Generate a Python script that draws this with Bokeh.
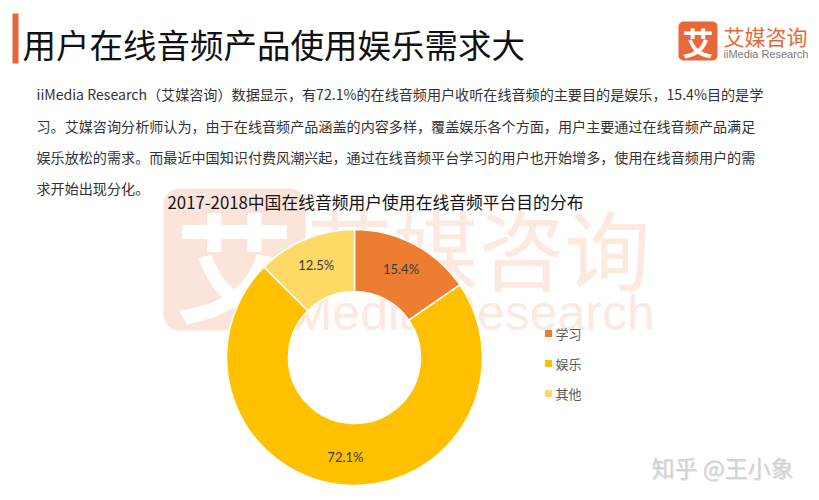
import numpy as np
from bokeh.plotting import figure
from bokeh.models import Range1d, ColumnDataSource
from bokeh.core.properties import value
from bokeh.embed import file_html
from bokeh.resources import INLINE

# ---------------- data ----------------
title = "用户在线音频产品使用娱乐需求大"
paragraph = [
    "iiMedia Research（艾媒咨询）数据显示，有72.1%的在线音频用户收听在线音频的主要目的是娱乐，15.4%目的是学",
    "习。艾媒咨询分析师认为，由于在线音频产品涵盖的内容多样，覆盖娱乐各个方面，用户主要通过在线音频产品满足",
    "娱乐放松的需求。而最近中国知识付费风潮兴起，通过在线音频平台学习的用户也开始增多，使用在线音频用户的需",
    "求开始出现分化。",
]
chart_title = "2017-2018中国在线音频用户使用在线音频平台目的分布"
categories = ["学习", "娱乐", "其他"]
shares = [15.4, 72.1, 12.5]
colors = ["#ED7D31", "#FFC000", "#FFD966"]
logo_mark = "艾"
logo_cn = "艾媒咨询"
logo_en = "iiMedia Research"
credit = "知乎 @王小象"

# ---------------- layout ----------------
W, H = 819, 500
CJK = value("Noto Sans CJK SC")
LAT = value("Liberation Sans")


def Y(px):
    return H - np.asarray(px, dtype=float)


def rounded(x0, y0, x1, y1, r, n=10):
    xs, ys = [], []
    corners = [(x1 - r, y0 + r, -90, 0), (x1 - r, y1 - r, 0, 90),
               (x0 + r, y1 - r, 90, 180), (x0 + r, y0 + r, 180, 270)]
    for cx, cy, a0, a1 in corners:
        t = np.radians(np.linspace(a0, a1, n))
        xs += list(cx + r * np.cos(t))
        ys += list(Y(cy + r * np.sin(t)))
    return xs, ys


p = figure(width=W, height=H, x_range=Range1d(0, W), y_range=Range1d(0, H),
           output_backend="svg", toolbar_location=None, min_border=0,
           x_axis_location=None, y_axis_location=None)
p.grid.visible = False
p.outline_line_color = None
p.background_fill_color = "white"
p.border_fill_color = "white"

# ---- background watermark ----
wm = "#FCE9E0"
xs, ys = rounded(163, 188, 305, 330, 16)
p.patch(xs, ys, fill_color="#FBE5DA", line_color=None)
p.text(x=[234], y=Y([262]), text=[logo_mark], text_font=CJK, text_font_size=value("118px"),
       text_color="white", text_align="center", text_baseline="middle", text_font_style="bold")
p.text(x=[306], y=Y([246]), text=[logo_cn], text_font=CJK, text_font_size=value("86px"),
       text_color=wm, text_align="left", text_baseline="middle")
p.text(x=[268], y=Y([312]), text=[logo_en], text_font=LAT, text_font_size=value("50px"),
       text_color=wm, text_align="left", text_baseline="middle")

# ---- header ----
p.quad(left=[12], right=[18], top=Y([13]), bottom=Y([63]), fill_color="#E8643A", line_color=None)
p.text(x=[22], y=Y([43]), text=[title], text_font=CJK, text_font_size=value("33.5px"),
       text_color="#111111", text_align="left", text_baseline="middle")

xs, ys = rounded(678, 21, 717, 60, 5)
p.patch(xs, ys, fill_color="#E9683A", line_color=None)
p.text(x=[697.5], y=Y([41]), text=[logo_mark], text_font=CJK, text_font_size=value("31px"),
       text_color="white", text_align="center", text_baseline="middle", text_font_style="bold")
p.text(x=[723], y=Y([35]), text=[logo_cn], text_font=CJK, text_font_size=value("21px"),
       text_color="#E9683A", text_align="left", text_baseline="middle")
p.text(x=[723], y=Y([53]), text=[logo_en], text_font=LAT, text_font_size=value("11px"),
       text_color="#7A7A7A", text_align="left", text_baseline="middle")

# ---- paragraph ----
line_y = [93, 125, 156, 187]
p.text(x=[36] * len(paragraph), y=Y(line_y), text=paragraph, text_font=CJK,
       text_font_size=value("14.1px"), text_color="#333333", text_align="left",
       text_baseline="middle")

# ---- chart title ----
p.text(x=[167], y=Y([201]), text=[chart_title], text_font=CJK, text_font_size=value("16.8px"),
       text_color="#141414", text_align="left", text_baseline="middle")

# ---- donut ----
cx, cy = 354, 357
r_in, r_out = 66, 128
frac = np.array(shares) / sum(shares)
cum = np.cumsum(frac)
prev = cum - frac
start = np.pi / 2 - 2 * np.pi * prev
end = np.pi / 2 - 2 * np.pi * cum
src = ColumnDataSource(dict(start=start, end=end, color=colors, cat=categories))
p.annular_wedge(x=cx, y=float(Y(cy)), inner_radius=r_in, outer_radius=r_out,
                start_angle="start", end_angle="end", direction="clock",
                fill_color="color", line_color="white", line_width=1.5, source=src)

mid = (start + end) / 2
r_lab = (r_in + r_out) / 2 + 3
lab_x = cx + r_lab * np.cos(mid)
lab_y = float(Y(cy)) + r_lab * np.sin(mid)
p.text(x=lab_x, y=lab_y, text=[f"{s:.1f}%" for s in shares], text_font=value("Lato"),
       text_font_size=value("13px"), text_color="#3A3A3A", text_align="center",
       text_baseline="middle")

# ---- legend ----
leg_y = Y([333, 363, 393])
p.rect(x=[548] * 3, y=leg_y, width=7, height=7, fill_color=colors, line_color=None)
p.text(x=[555] * 3, y=leg_y, text=categories, text_font=CJK, text_font_size=value("13px"),
       text_color="#595959", text_align="left", text_baseline="middle")

# ---- credit ----
p.text(x=[723], y=Y([467]), text=[credit], text_font=CJK, text_font_size=value("23px"),
       text_color="#B0B0B0", text_align="center", text_baseline="middle", text_alpha=0.3)
p.text(x=[722], y=Y([466]), text=[credit], text_font=CJK, text_font_size=value("23px"),
       text_color="#D2D2D2", text_align="center", text_baseline="middle")

open("out.html", "w").write(file_html(p, INLINE))
